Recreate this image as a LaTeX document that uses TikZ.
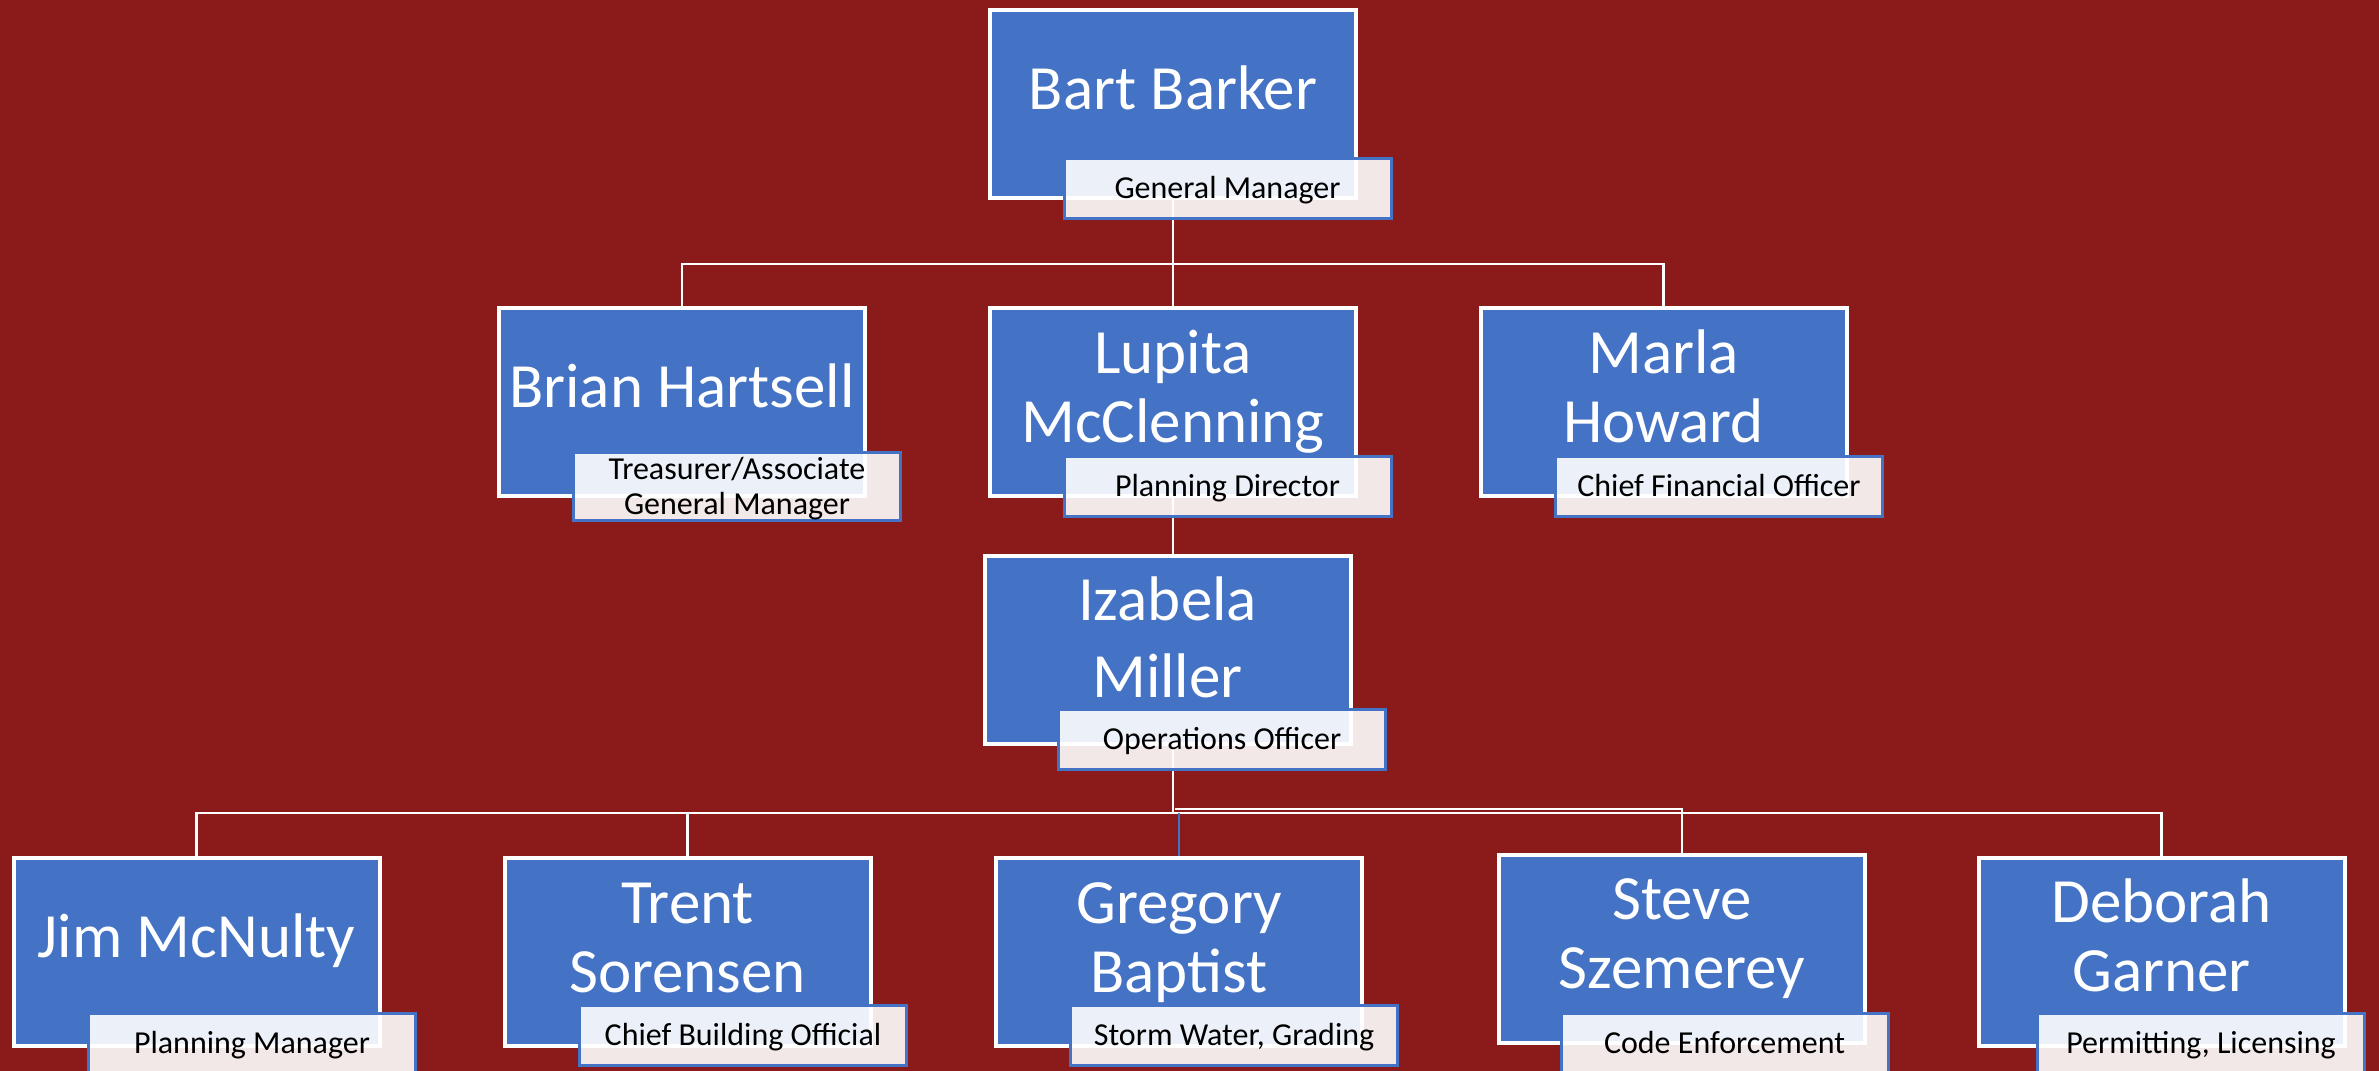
\documentclass[tikz,border=0pt]{standalone}
\usepackage{fontspec}
\setmainfont{Carlito}
\usepackage{tikz}

\definecolor{bgred}{RGB}{139,26,27}
\definecolor{boxblue}{RGB}{68,114,196}
\newcommand{\namestrut}{\rule[-6.1pt]{0pt}{32.1pt}}
\newcommand{\titlestrut}{\rule[-3.4pt]{0pt}{16.9pt}}

\begin{document}
\begin{tikzpicture}
	[x=0.5pt,y=-0.5pt,
		link/.style={draw=white,line width=1.2pt},
		box node/.style={rectangle,draw=white,line width=2pt,fill=boxblue,minimum width=183pt,minimum height=94pt,inner sep=0pt},
		name node/.style={text=white,align=center,inner sep=0pt,font=\fontsize{31.5}{34.5}\selectfont},
		title node/.style={rectangle,draw=boxblue,line width=1.5pt,fill=white,fill opacity=0.9,text opacity=1,minimum width=163.5pt,minimum height=30pt,inner sep=0pt,align=center,font=\fontsize{16}{17.5}\selectfont}]

	\useasboundingbox (0,0) rectangle (2379,1071);
	\fill[bgred] (0,0) rectangle (2379,1071);

	% boxes
	\node[box node] (bart) at (1173,103.5) {};
	\node[box node] (brian) at (682,402) {};
	\node[box node] (lupita) at (1173,402) {};
	\node[box node] (marla) at (1663.5,402) {};
	\node[box node] (izabela) at (1167.5,649.5) {};
	\node[box node] (jim) at (196.5,951.5) {};
	\node[box node] (trent) at (687.5,952) {};
	\node[box node] (gregory) at (1179,952) {};
	\node[box node] (steve) at (1682,948.5) {};
	\node[box node] (deborah) at (2161.5,951.5) {};

	% names
	\node[name node] (bart name) at ([yshift=7pt]bart.center) {\namestrut Bart Barker};
	\node[name node] (brian name) at ([yshift=7pt]brian.center) {\namestrut Brian Hartsell};
	\node[name node] (lupita name) at ([yshift=7pt]lupita.center) {\namestrut Lupita\\\namestrut McClenning};
	\node[name node] (marla name) at ([yshift=7pt]marla.center) {\namestrut Marla\\\namestrut Howard};
	\node[name node] (izabela name) at ([yshift=5pt]izabela.center) {\namestrut Izabela\\[4pt]\namestrut Miller};
	\node[name node] (jim name) at ([yshift=7pt]jim.center) {\namestrut Jim McNulty};
	\node[name node] (trent name) at ([yshift=7pt]trent.center) {\namestrut Trent\\\namestrut Sorensen};
	\node[name node] (gregory name) at ([yshift=7pt]gregory.center) {\namestrut Gregory\\\namestrut Baptist};
	\node[name node] (steve name) at ([yshift=7pt]steve.center) {\namestrut Steve\\\namestrut Szemerey};
	\node[name node] (deborah name) at ([yshift=7pt]deborah.center) {\namestrut Deborah\\\namestrut Garner};

	% connectors
	\coordinate (top bus) at (1173,264);
	\coordinate (low bus) at (1173,813);
	\coordinate (side bus) at (1175,809);
	\draw[link] (bart.south) -- (lupita.north);
	\draw[link] (brian.north) -- (brian.north |- top bus) -- (marla.north |- top bus) -- (marla.north);
	\draw[link] (lupita.south) -- (lupita.south |- izabela.north);
	\draw[link] (izabela.south -| low bus) -- (low bus);
	\draw[link] (jim.north) -- (jim.north |- low bus) -- (deborah.north |- low bus) -- (deborah.north);
	\draw[link] (trent.north) -- (trent.north |- low bus);
	\draw[link] (side bus) -- (steve.north |- side bus) -- (steve.north);
	\draw[link,draw=boxblue] (gregory.north |- low bus) -- (gregory.north);

	% titles
	\node[title node] (bart title) at (1227.5,188) {\titlestrut General Manager};
	\node[title node] (brian title) at (737,486.5) {\titlestrut Treasurer/Associate\\\titlestrut General Manager};
	\node[title node] (lupita title) at (1227.5,486.5) {\titlestrut Planning Director};
	\node[title node] (marla title) at (1719,486.5) {\titlestrut Chief Financial Officer};
	\node[title node] (izabela title) at (1222,739.5) {\titlestrut Operations Officer};
	\node[title node] (jim title) at (252,1043.5) {\titlestrut Planning Manager};
	\node[title node] (trent title) at (743,1035.5) {\titlestrut Chief Building Official};
	\node[title node] (gregory title) at (1234,1035.5) {\titlestrut Storm Water, Grading};
	\node[title node] (steve title) at (1724.5,1043.5) {\titlestrut Code Enforcement};
	\node[title node] (deborah title) at (2201,1043.5) {\titlestrut Permitting, Licensing};
\end{tikzpicture}
\end{document}
